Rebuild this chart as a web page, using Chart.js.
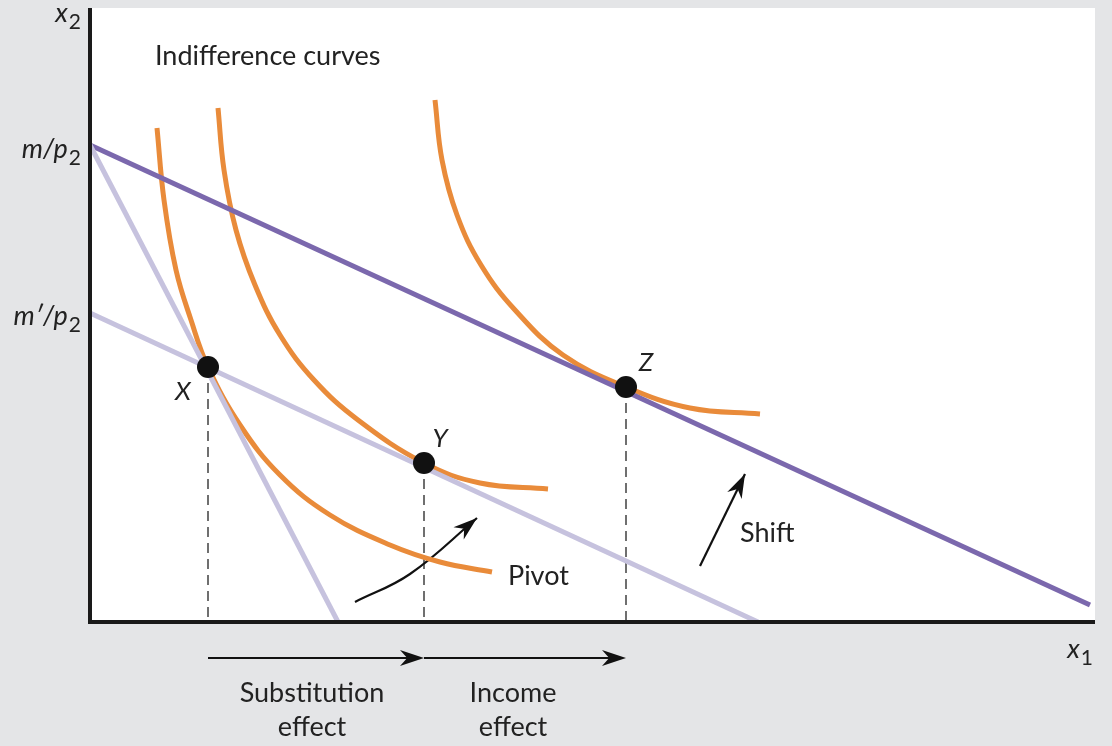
<!DOCTYPE html>
<html><head><meta charset="utf-8">
<script src="https://cdn.jsdelivr.net/npm/chart.js@4"></script>
<style>html,body{margin:0;padding:0;background:#e4e5e7;}#wrap{width:1112px;height:746px;}</style>
</head><body><div id="wrap"><canvas id="c" width="1112" height="746"></canvas></div>
<script>
// Coordinates in chart units: x = 0..1005, y = 0..614 (origin at axes corner)
const budgetNew = [{x:0,y:477},{x:1000,y:17}];
const budgetOld = [{x:0,y:477},{x:248,y:0}];
const budgetComp = [{x:0,y:309},{x:668,y:0}];
const curve1 = [[67,494],[74,422],[86,352],[101,302],[118,255],[150,197],[190,147],[240,107],[300,77],[350,60],[402,50]];
const curve2 = [[128,514],[134,452],[146,392],[165,337],[190,287],[224,242],[268,202],[334,159],[390,139],[458,133]];
const curve3 = [[345,522],[352,462],[367,407],[391,357],[425,312],[473,267],[536,235],[600,214],[670,208]];
const points = [{x:118,y:255,label:'X'},{x:334,y:159,label:'Y'},{x:536,y:235,label:'Z'}];
const pivotArrow = [[265,20],[320,48],[387,104]];
const shiftArrow = [[610,56],[655,148]];
const effectArrows = [[[118,-36],[334,-36]],[[334,-36],[536,-36]]];

const xy = a => a.map(p => ({x:p[0], y:p[1]}));
const ORANGE = '#e98b3a', PURPLE = '#7b68ad', LILAC = '#c6c2de';
const FONT = 'Lato, "Open Sans", sans-serif';

function line(data, color, width, extra) {
  return Object.assign({data, borderColor:color, borderWidth:width, pointRadius:0, fill:false, showLine:true}, extra || {});
}

const decor = {
  id:'decor',
  beforeDraw(chart) {
    const {ctx, chartArea:a} = chart;
    ctx.save();
    ctx.fillStyle = '#e4e5e7'; ctx.fillRect(0,0,chart.width,chart.height);
    ctx.fillStyle = '#fff'; ctx.fillRect(a.left,a.top,a.right-a.left,a.bottom-a.top);
    // dashed drop lines
    const xs = chart.scales.x, ys = chart.scales.y;
    ctx.strokeStyle = '#333'; ctx.lineWidth = 1.4; ctx.setLineDash([10,6]);
    points.forEach(p => {
      ctx.beginPath(); ctx.moveTo(xs.getPixelForValue(p.x), ys.getPixelForValue(p.y));
      ctx.lineTo(xs.getPixelForValue(p.x), ys.getPixelForValue(0)); ctx.stroke();
    });
    ctx.restore();
  },
  afterDraw(chart) {
    const {ctx, chartArea:a} = chart;
    const xs = chart.scales.x, ys = chart.scales.y;
    const px = v => xs.getPixelForValue(v), py = v => ys.getPixelForValue(v);
    ctx.save();
    // axes
    ctx.strokeStyle = '#1a1a1a'; ctx.lineWidth = 4;
    ctx.beginPath(); ctx.moveTo(a.left, a.top); ctx.lineTo(a.left, a.bottom); ctx.lineTo(a.right, a.bottom); ctx.stroke();
    // points
    ctx.fillStyle = '#111';
    points.forEach(p => { ctx.beginPath(); ctx.arc(px(p.x), py(p.y), 11, 0, Math.PI*2); ctx.fill(); });
    // arrows
    ctx.lineWidth = 2.2; ctx.strokeStyle = '#111';
    function head(x0,y0,x1,y1) {
      const ang = Math.atan2(y1-y0, x1-x0), L = 24, W = 8;
      ctx.beginPath(); ctx.moveTo(x1,y1);
      ctx.lineTo(x1 - L*Math.cos(ang) + W*Math.sin(ang), y1 - L*Math.sin(ang) - W*Math.cos(ang));
      ctx.lineTo(x1 - L*0.7*Math.cos(ang), y1 - L*0.7*Math.sin(ang));
      ctx.lineTo(x1 - L*Math.cos(ang) - W*Math.sin(ang), y1 - L*Math.sin(ang) + W*Math.cos(ang));
      ctx.closePath(); ctx.fill();
    }
    effectArrows.forEach(ar => {
      const x0 = px(ar[0][0]), y0 = py(ar[0][1]), x1 = px(ar[1][0]), y1 = py(ar[1][1]);
      ctx.beginPath(); ctx.moveTo(x0,y0); ctx.lineTo(x1-15,y1); ctx.stroke(); head(x0,y0,x1,y1);
    });
    const s = shiftArrow;
    head(px(s[0][0]),py(s[0][1]),px(s[1][0]),py(s[1][1]));
    const pv = pivotArrow;
    head(px(pv[1][0]),py(pv[1][1]),px(pv[2][0]),py(pv[2][1]));
    // texts
    ctx.fillStyle = '#222'; ctx.textBaseline = 'alphabetic';
    ctx.font = '27px ' + FONT; ctx.textAlign = 'left';
    ctx.fillText('Indifference curves', 155, 65);
    ctx.fillText('Pivot', 508, 585);
    ctx.fillText('Shift', 740, 542);
    ctx.textAlign = 'center';
    ctx.fillText('Substitution', 312, 702); ctx.fillText('effect', 312, 736);
    ctx.fillText('Income', 513, 702); ctx.fillText('effect', 513, 736);
    ctx.font = 'italic 26px ' + FONT;
    ctx.fillText('X', 183, 400); ctx.fillText('Y', 440, 447); ctx.fillText('Z', 646, 371);
    // axis labels
    function sub(main, s, xR, y) {
      ctx.textAlign = 'left';
      ctx.font = '21px ' + FONT; const ws = ctx.measureText(s).width;
      ctx.font = 'italic 27px ' + FONT; const wm = ctx.measureText(main).width;
      const x0 = xR - ws - wm;
      ctx.fillText(main, x0, y);
      ctx.font = '21px ' + FONT; ctx.fillText(s, x0 + wm + 1, y + 7);
    }
    sub('x', '2', 80, 22);
    sub('m/p', '2', 80, 158);
    sub('m\u2032/p', '2', 80, 325);
    sub('x', '1', 1092, 658);
    ctx.restore();
  }
};

new Chart(document.getElementById('c'), {
  type:'scatter',
  data:{datasets:[
    line(budgetOld, LILAC, 5),
    line(budgetComp, LILAC, 5),
    line(budgetNew, PURPLE, 5),
    line(xy(curve1), ORANGE, 5, {tension:0.4}),
    line(xy(curve2), ORANGE, 5, {tension:0.4}),
    line(xy(curve3), ORANGE, 5, {tension:0.4}),
    line(xy(pivotArrow), '#111', 2.2, {tension:0.4}),
    line(xy(shiftArrow), '#111', 2.2)
  ]},
  options:{
    responsive:false, animation:false,
    layout:{padding:{left:90, right:17, top:8, bottom:124}},
    plugins:{legend:{display:false}, tooltip:{enabled:false}},
    scales:{
      x:{type:'linear', min:0, max:1005, display:false},
      y:{type:'linear', min:0, max:614, display:false}
    }
  },
  plugins:[decor]
});
</script></body></html>
